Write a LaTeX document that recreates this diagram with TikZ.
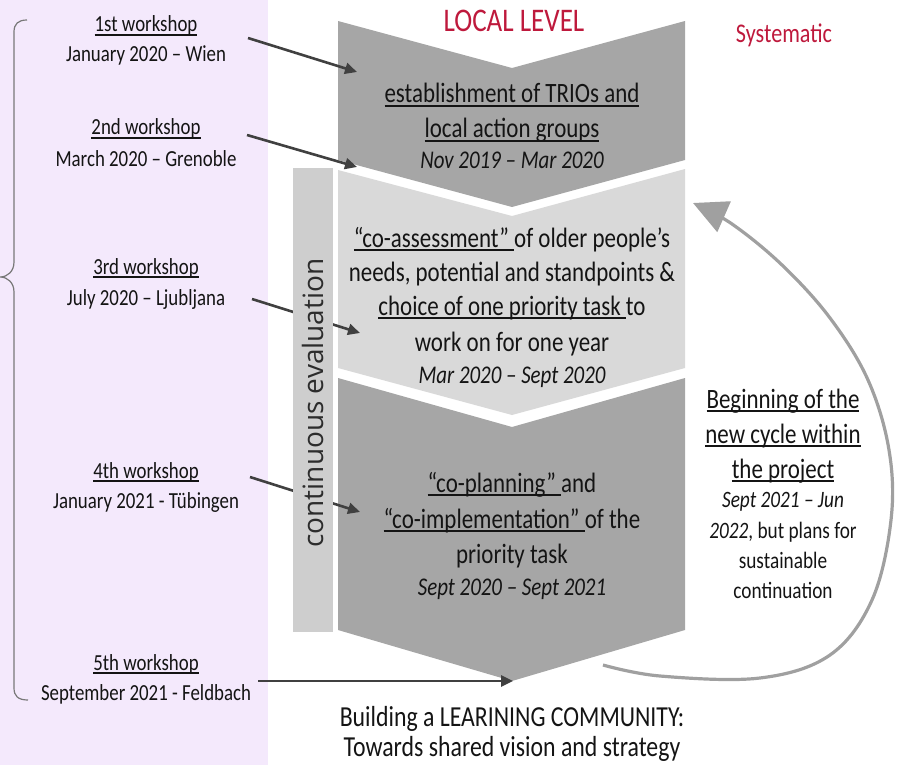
\documentclass[tikz,border=0pt]{standalone}
\usepackage{fontspec}
\setmainfont{Carlito}[FakeStretch=0.82]
\newfontfamily\evalfont{Open Sans}
\usetikzlibrary{arrows.meta}
\definecolor{lav}{RGB}{244,233,252}
\definecolor{darkchev}{RGB}{166,166,166}
\definecolor{lightchev}{RGB}{217,217,217}
\definecolor{evalbar}{RGB}{206,206,206}
\definecolor{arrowdark}{RGB}{64,64,64}
\definecolor{redtitle}{RGB}{190,25,60}
\definecolor{cyclegray}{RGB}{160,160,160}
\definecolor{bracegray}{RGB}{120,120,120}
\definecolor{txt}{RGB}{20,20,20}
\newcommand\myul[1]{\leavevmode\setbox0\hbox{#1}\rlap{\rule[-3.6pt]{\wd0}{1.3pt}}\box0}
\tikzset{
  lbl/.style={anchor=base, inner sep=0pt, text=txt},
  chevtxt/.style={lbl, font=\fontsize{28}{34}\selectfont},
  datetxt/.style={lbl, font=\fontsize{25.5}{30}\selectfont\itshape},
  smalltxt/.style={lbl, font=\fontsize{23.5}{28}\selectfont},
  wstxt/.style={lbl, font=\fontsize{23}{28}\selectfont},
  bottomtxt/.style={lbl, font=\fontsize{29}{34}\selectfont},
  redtxt/.style={anchor=base, inner sep=0pt, text=redtitle},
  conn/.style={draw=arrowdark, line width=2.6pt, -{Triangle[length=12pt,width=11pt]}},
}
\begin{document}
\begin{tikzpicture}[x=1pt,y=-1pt]
\useasboundingbox (0,0) rectangle (899,765);
% background panel
\fill[lav] (0,0) rectangle (268,765);
% brace
\draw[bracegray, line width=1.2pt] (27,20) .. controls (18,20) and (14,24) .. (14,32) -- (14,262)
  .. controls (14,271) and (8,277) .. (0,277) .. controls (8,277) and (14,283) .. (14,292)
  -- (14,688) .. controls (14,696) and (18,700) .. (28,700);
% chevrons
\fill[darkchev] (338,21) -- (512,68) -- (685,21) -- (685,160) -- (512,207) -- (338,160) -- cycle;
\fill[lightchev] (338,170) -- (512,216) -- (685,169) -- (685,368) -- (512,415) -- (338,368) -- cycle;
\fill[darkchev] (338,378) -- (512,427) -- (685,378) -- (685,630) -- (512,681) -- (338,630) -- cycle;
% connector end points
\coordinate (w1s) at (248,38);  \coordinate (w1e) at (357,72);
\coordinate (w2s) at (247,135); \coordinate (w2e) at (357,167);
\coordinate (w3s) at (252,299); \coordinate (w3e) at (360,333);
\coordinate (w4s) at (250,477); \coordinate (w4e) at (360,512);
\coordinate (w5s) at (258,681); \coordinate (w5e) at (513,681);
\draw[conn] (w1s) -- (w1e);
\draw[conn] (w2s) -- (w2e);
\draw[conn] (w3s) -- (w3e);
\draw[conn] (w4s) -- (w4e);
\draw[conn] (w5s) -- (w5e);
% evaluation bar
\fill[evalbar] (293,168) rectangle (333,632);
\node[anchor=base, inner sep=0pt, rotate=90, text=txt!90, font=\evalfont\fontsize{28}{32}\selectfont] (evalt) at (323,403) {continuous evaluation};
% titles
\node[redtxt, font=\fontsize{33}{38}\selectfont] (local) at (514,32) {LOCAL LEVEL};
\node[redtxt, font=\fontsize{27}{32}\selectfont] (syst) at (784,43) {Systematic};
% workshops
\node[wstxt] (ws1a) at (146,32) {\myul{1st workshop}};
\node[wstxt] (ws1b) at (146,62) {January 2020 – Wien};
\node[wstxt] (ws2a) at (146,135) {\myul{2nd workshop}};
\node[wstxt] (ws2b) at (146,166) {March 2020 – Grenoble};
\node[wstxt] (ws3a) at (146,274) {\myul{3rd workshop}};
\node[wstxt] (ws3b) at (146,305) {July 2020 – Ljubljana};
\node[wstxt] (ws4a) at (146,478) {\myul{4th workshop}};
\node[wstxt] (ws4b) at (146,508) {January 2021 - Tübingen};
\node[wstxt] (ws5a) at (146,670) {\myul{5th workshop}};
\node[wstxt] (ws5b) at (146,700) {September 2021 - Feldbach};
% chevron 1
\node[chevtxt] (c1a) at (512,103) {\myul{establishment of TRIOs and}};
\node[chevtxt] (c1b) at (512,138) {\myul{local action groups}};
\node[datetxt] (c1c) at (512,168) {Nov 2019 – Mar 2020};
% chevron 2
\node[chevtxt] (c2a) at (512,247) {\myul{“co-assessment” }of older people’s};
\node[chevtxt] (c2b) at (512,281) {needs, potential and standpoints \&};
\node[chevtxt] (c2c) at (512,315) {\myul{choice of one priority task }to};
\node[chevtxt] (c2d) at (512,351) {work on for one year};
\node[datetxt] (c2e) at (512,383) {Mar 2020 – Sept 2020};
% chevron 3
\node[chevtxt] (c3a) at (512,492) {\myul{“co-planning” }and};
\node[chevtxt] (c3b) at (512,528) {\myul{“co-implementation” }of the};
\node[chevtxt] (c3c) at (512,563) {priority task};
\node[datetxt] (c3d) at (512,595) {Sept 2020 – Sept 2021};
% right text
\node[chevtxt] (r1) at (783,408) {\myul{Beginning of the}};
\node[chevtxt] (r2) at (783,443) {\myul{new cycle within}};
\node[chevtxt] (r3) at (783,478) {\myul{the project}};
\node[smalltxt, font=\fontsize{23.5}{28}\selectfont\itshape] (r4) at (783,507) {Sept 2021 – Jun};
\node[smalltxt] (r5) at (783,538) {\textit{2022}, but plans for};
\node[smalltxt] (r6) at (783,568) {sustainable};
\node[smalltxt] (r7) at (783,598) {continuation};
% bottom text
\node[bottomtxt] (b1) at (512,726) {Building a LEARINING COMMUNITY:};
\node[bottomtxt] (b2) at (512,756) {Towards shared vision and strategy};
% cycle arrow
\coordinate (cyS) at (603,665);
\coordinate (cyE) at (693,203);
\draw[cyclegray, line width=3.2pt, -{Triangle[length=34pt,width=33pt]}]
  plot[smooth, tension=0.6] coordinates {(cyS) (660,676) (760,678) (830,655) (872,600) (891,520) (889,450) (868,380) (830,318) (782,265) (732,224) (cyE)};
\end{tikzpicture}
\end{document}
